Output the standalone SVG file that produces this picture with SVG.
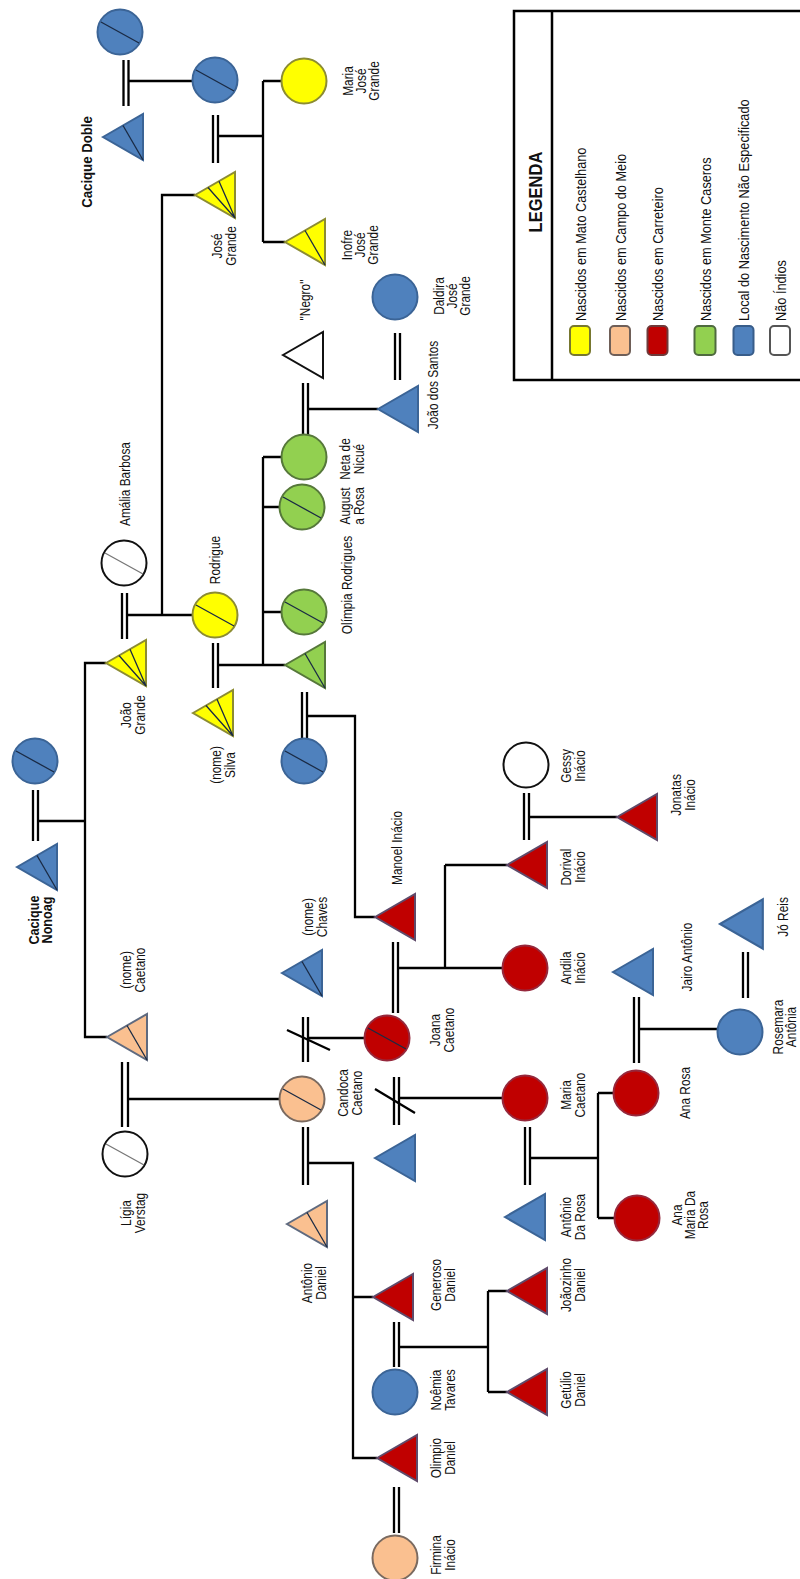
<svg xmlns="http://www.w3.org/2000/svg" xmlns:xlink="http://www.w3.org/1999/xlink" width="800" height="1579" viewBox="0 0 800 1579">
<style>
.ln{stroke:#000;stroke-width:2.3;fill:none}
.dl{stroke:#000;stroke-width:2.3;fill:none}
.blue{fill:#4f81bd;stroke:#3b6496;stroke-width:2}
.yel{fill:#ffff00;stroke:#8c8c32;stroke-width:2}
.red{fill:#c00000;stroke:#96283c;stroke-width:2}
.redt{fill:#c00000;stroke:#5f4a6a;stroke-width:2}
.grn{fill:#92d050;stroke:#56783a;stroke-width:2}
.pch{fill:#fac090;stroke:#7a6a60;stroke-width:2}
.pcht{fill:#fac090;stroke:#5f6a7f;stroke-width:2}
.wht{fill:#fff;stroke:#111;stroke-width:2}
.dg{stroke:#1a2a44;stroke-width:1.3;fill:none}
.dgw{stroke:#777;stroke-width:1.3;fill:none}
.t{font-family:"Liberation Sans",Arial,sans-serif;font-size:14px;fill:#111;text-anchor:middle}
.tb{font-family:"Liberation Sans",Arial,sans-serif;font-size:14px;font-weight:bold;fill:#111;text-anchor:middle}
.lg{font-family:"Liberation Sans",Arial,sans-serif;font-size:15px;fill:#111;text-anchor:start}
.sw{stroke-width:2}
</style>
<defs>
<path id="tri" d="M0 0 L40 -23 L40 23 Z"/>
<path id="l1" d="M20 -11.5 L40 23"/>
<path id="l2" d="M13 -7.5 L40 23 M24 -13.8 L40 23"/>
<path id="cd" d="M-19 -10 L19 11"/>
</defs>

<g id="connectors">
<path class="ln" d="M128.5 81 H193 M218 136 H263 M263 81 V242 M263 81 H282 M263 242 H285 M195 195 H162 V615 M127 615 H193 M106 663 H85 V1037 H107 M38 821 H85 M218 665 H285 M263 457 V665 M263 457 H282 M263 507 H280 M263 612 H282 M308 409 H378 M307 716 H355 V917 H375 M398 968 H503 M445 865 V968 M445 865 H507 M308 1038 H365 M399 1098 H503 M128 1099 H280 M308 1163 H353 V1458 H377 M353 1297 H373 M399 1347 H488 M488 1291 V1392 M488 1291 H507 M488 1392 H507 M530 1158 H598 M598 1093 V1218 M598 1093 H614 M598 1218 H615 M639 1029 H718 M529 817 H617"/>
<path class="dl" d="M123.5 60 V106 M128.5 60 V106 M213 115 V163 M218 115 V163 M122 593 V639 M127 593 V639 M33 790 V841 M38 790 V841 M213 643 V688 M218 643 V688 M303 383 V435 M308 383 V435 M395 333 V380 M400 333 V380 M302 692 V738 M307 692 V738 M393 942 V1013 M398 942 V1013 M303 1017 V1062 M308 1017 V1062 M394 1077 V1125 M399 1077 V1125 M122 1062 V1127 M128 1062 V1127 M303 1127 V1185 M308 1127 V1185 M394 1322 V1367 M399 1322 V1367 M394 1487 V1533 M399 1487 V1533 M525 1127 V1185 M530 1127 V1185 M634 997 V1063 M639 997 V1063 M743 952 V998 M748 952 V998 M524 793 V840 M529 793 V840"/>
<path class="ln" d="M287 1030 L330 1050 M375 1089 L415 1113"/>
</g>

<g id="n-doble-mae"><circle class="blue" cx="120" cy="32" r="22.5"/><use href="#cd" class="dg" x="120" y="32"/></g>
<g id="n-cacique-doble"><use href="#tri" class="blue" x="103" y="137"/><use href="#l1" class="dg" x="103" y="137"/>
<text class="tb" style="font-size:15px" transform="translate(87,162) rotate(-90) scale(.88,1)" y="5.4">Cacique Doble</text></g>
<g id="n-doble-filha"><circle class="blue" cx="215" cy="80" r="22.5"/><use href="#cd" class="dg" x="215" y="80"/></g>
<g id="n-maria-jose-grande"><circle class="yel" cx="304" cy="81" r="22.5"/>
<text class="t" transform="translate(361,81) rotate(-90) scale(.85,1)"><tspan x="0" y="-8.5">Maria</tspan><tspan x="0" y="5">José</tspan><tspan x="0" y="18.5">Grande</tspan></text></g>
<g id="n-jose-grande"><use href="#tri" class="yel" x="195" y="195"/><use href="#l2" class="dg" x="195" y="195"/>
<text class="t" transform="translate(224,246) rotate(-90) scale(.85,1)"><tspan x="0" y="-1.75">José</tspan><tspan x="0" y="11.75">Grande</tspan></text></g>
<g id="n-inofre"><use href="#tri" class="yel" x="285" y="242"/><use href="#l1" class="dg" x="285" y="242"/>
<text class="t" transform="translate(360,245) rotate(-90) scale(.85,1)"><tspan x="0" y="-8.5">Inofre</tspan><tspan x="0" y="5">José</tspan><tspan x="0" y="18.5">Grande</tspan></text></g>
<g id="n-negro"><use href="#tri" class="wht" x="283" y="355"/>
<text class="t" transform="translate(305,300) rotate(-90) scale(.85,1)" y="5">"Negro"</text></g>
<g id="n-daldira"><circle class="blue" cx="395" cy="297" r="22.5"/>
<text class="t" transform="translate(452,296) rotate(-90) scale(.85,1)"><tspan x="0" y="-8.5">Daldira</tspan><tspan x="0" y="5">José</tspan><tspan x="0" y="18.5">Grande</tspan></text></g>
<g id="n-joao-santos"><use href="#tri" class="blue" x="378" y="409"/>
<text class="t" transform="translate(433,385) rotate(-90) scale(.85,1)" y="5">João dos Santos</text></g>
<g id="n-amalia"><circle class="wht" cx="124" cy="563" r="22.5"/><use href="#cd" class="dgw" x="124" y="563"/>
<text class="t" transform="translate(125,484) rotate(-90) scale(.85,1)" y="5">Amália Barbosa</text></g>
<g id="n-rodrigue"><circle class="yel" cx="215" cy="615" r="22.5"/><use href="#cd" class="dg" x="215" y="615"/>
<text class="t" transform="translate(215,560) rotate(-90) scale(.85,1)" y="5">Rodrigue</text></g>
<g id="n-joao-grande"><use href="#tri" class="yel" x="106" y="663"/><use href="#l2" class="dg" x="106" y="663"/>
<text class="t" transform="translate(133,715) rotate(-90) scale(.85,1)"><tspan x="0" y="-1.75">João</tspan><tspan x="0" y="11.75">Grande</tspan></text></g>
<g id="n-silva"><use href="#tri" class="yel" x="193" y="713"/><use href="#l2" class="dg" x="193" y="713"/>
<text class="t" transform="translate(223,765) rotate(-90) scale(.85,1)"><tspan x="0" y="-1.75">(nome)</tspan><tspan x="0" y="11.75">Silva</tspan></text></g>
<g id="n-neta"><circle class="grn" cx="304" cy="457" r="22.5"/>
<text class="t" transform="translate(352,459) rotate(-90) scale(.85,1)"><tspan x="0" y="-1.75">Neta de</tspan><tspan x="0" y="11.75">Nicué</tspan></text></g>
<g id="n-augusta"><circle class="grn" cx="302" cy="507" r="22.5"/><use href="#cd" class="dg" x="302" y="507"/>
<text class="t" transform="translate(352,506) rotate(-90) scale(.85,1)"><tspan x="0" y="-1.75">August</tspan><tspan x="0" y="11.75">a Rosa</tspan></text></g>
<g id="n-olimpia"><circle class="grn" cx="304" cy="612" r="22.5"/><use href="#cd" class="dg" x="304" y="612"/>
<text class="t" transform="translate(347,585) rotate(-90) scale(.85,1)" y="5">Olímpia Rodrigues</text></g>
<g id="n-verde"><use href="#tri" class="grn" x="285" y="665"/><use href="#l1" class="dg" x="285" y="665"/></g>
<g id="n-azul-mae-manoel"><circle class="blue" cx="304" cy="761" r="22.5"/><use href="#cd" class="dg" x="304" y="761"/></g>
<g id="n-nonoai-esposa"><circle class="blue" cx="35" cy="761" r="22.5"/><use href="#cd" class="dg" x="35" y="761"/></g>
<g id="n-cacique-nonoai"><use href="#tri" class="blue" x="17" y="867"/><use href="#l1" class="dg" x="17" y="867"/>
<text class="tb" transform="translate(40,920) rotate(-90) scale(.9,1)"><tspan x="0" y="-1.5">Cacique</tspan><tspan x="0" y="11.5">Nonoag</tspan></text></g>
<g id="n-nome-caetano"><use href="#tri" class="pcht" x="107" y="1037"/><use href="#l1" class="dg" x="107" y="1037"/>
<text class="t" transform="translate(133,970) rotate(-90) scale(.85,1)"><tspan x="0" y="-1.75">(nome)</tspan><tspan x="0" y="11.75">Caetano</tspan></text></g>
<g id="n-ligia"><circle class="wht" cx="125" cy="1154" r="22.5"/><use href="#cd" class="dgw" x="125" y="1154"/>
<text class="t" transform="translate(133,1213) rotate(-90) scale(.85,1)"><tspan x="0" y="-1.75">Lígia</tspan><tspan x="0" y="11.75">Verstag</tspan></text></g>
<g id="n-chaves"><use href="#tri" class="blue" x="282" y="973"/><use href="#l1" class="dg" x="282" y="973"/>
<text class="t" transform="translate(315,917) rotate(-90) scale(.85,1)"><tspan x="0" y="-1.75">(nome)</tspan><tspan x="0" y="11.75">Chaves</tspan></text></g>
<g id="n-candoca"><circle class="pch" cx="302" cy="1099" r="22.5"/><use href="#cd" class="dg" x="302" y="1099"/>
<text class="t" transform="translate(350,1093) rotate(-90) scale(.85,1)"><tspan x="0" y="-1.75">Candoca</tspan><tspan x="0" y="11.75">Caetano</tspan></text></g>
<g id="n-manoel"><use href="#tri" class="redt" x="375" y="917"/>
<text class="t" transform="translate(397,848) rotate(-90) scale(.85,1)" y="5">Manoel Inácio</text></g>
<g id="n-joana"><circle class="red" cx="387" cy="1038" r="22.5"/><use href="#cd" class="dg" x="387" y="1038"/>
<text class="t" transform="translate(442,1030) rotate(-90) scale(.85,1)"><tspan x="0" y="-1.75">Joana</tspan><tspan x="0" y="11.75">Caetano</tspan></text></g>
<g id="n-azul-sem-nome"><use href="#tri" class="blue" x="375" y="1158"/></g>
<g id="n-gessy"><circle class="wht" cx="526" cy="765" r="22.5"/>
<text class="t" transform="translate(573,766) rotate(-90) scale(.85,1)"><tspan x="0" y="-1.75">Gessy</tspan><tspan x="0" y="11.75">Inácio</tspan></text></g>
<g id="n-dorival"><use href="#tri" class="redt" x="507" y="865"/>
<text class="t" transform="translate(573,867) rotate(-90) scale(.85,1)"><tspan x="0" y="-1.75">Dorival</tspan><tspan x="0" y="11.75">Inácio</tspan></text></g>
<g id="n-jonatas"><use href="#tri" class="redt" x="617" y="817"/>
<text class="t" transform="translate(683,795) rotate(-90) scale(.85,1)"><tspan x="0" y="-1.75">Jonatas</tspan><tspan x="0" y="11.75">Inácio</tspan></text></g>
<g id="n-andila"><circle class="red" cx="525" cy="968" r="22.5"/>
<text class="t" transform="translate(573,968) rotate(-90) scale(.85,1)"><tspan x="0" y="-1.75">Andila</tspan><tspan x="0" y="11.75">Inácio</tspan></text></g>
<g id="n-maria-caetano"><circle class="red" cx="525" cy="1098" r="22.5"/>
<text class="t" transform="translate(573,1095) rotate(-90) scale(.85,1)"><tspan x="0" y="-1.75">Maria</tspan><tspan x="0" y="11.75">Caetano</tspan></text></g>
<g id="n-jairo"><use href="#tri" class="blue" x="613" y="972"/>
<text class="t" transform="translate(687,957) rotate(-90) scale(.85,1)" y="5">Jairo Antônio</text></g>
<g id="n-jo-reis"><use href="#tri" class="blue" transform="translate(720,924) scale(1.07)"/>
<text class="t" transform="translate(783,917) rotate(-90) scale(.85,1)" y="5">Jó Reis</text></g>
<g id="n-rosemara"><circle class="blue" cx="740" cy="1032" r="22.5"/>
<text class="t" transform="translate(785,1027) rotate(-90) scale(.85,1)"><tspan x="0" y="-1.75">Rosemara</tspan><tspan x="0" y="11.25">Antônia</tspan></text></g>
<g id="n-ana-rosa"><circle class="red" cx="636" cy="1093" r="22.5"/>
<text class="t" transform="translate(685,1093) rotate(-90) scale(.85,1)" y="5">Ana Rosa</text></g>
<g id="n-antonio-da-rosa"><use href="#tri" class="blue" x="505" y="1217"/>
<text class="t" transform="translate(573,1217) rotate(-90) scale(.85,1)"><tspan x="0" y="-1.75">Antônio</tspan><tspan x="0" y="11.75">Da Rosa</tspan></text></g>
<g id="n-ana-maria"><circle class="red" cx="637" cy="1218" r="22.5"/>
<text class="t" transform="translate(690,1215) rotate(-90) scale(.85,1)"><tspan x="0" y="-8.5">Ana</tspan><tspan x="0" y="5">Maria Da</tspan><tspan x="0" y="18.5">Rosa</tspan></text></g>
<g id="n-antonio-daniel"><use href="#tri" class="pcht" x="287" y="1224"/><use href="#l1" class="dg" x="287" y="1224"/>
<text class="t" transform="translate(314,1283) rotate(-90) scale(.85,1)"><tspan x="0" y="-1.75">Antônio</tspan><tspan x="0" y="11.75">Daniel</tspan></text></g>
<g id="n-generoso"><use href="#tri" class="redt" x="373" y="1297"/>
<text class="t" transform="translate(443,1285) rotate(-90) scale(.85,1)"><tspan x="0" y="-1.75">Generoso</tspan><tspan x="0" y="11.75">Daniel</tspan></text></g>
<g id="n-noemia"><circle class="blue" cx="395" cy="1392" r="22.5"/>
<text class="t" transform="translate(443,1390) rotate(-90) scale(.85,1)"><tspan x="0" y="-1.75">Noêmia</tspan><tspan x="0" y="11.75">Tavares</tspan></text></g>
<g id="n-joaozinho"><use href="#tri" class="redt" x="507" y="1291"/>
<text class="t" transform="translate(573,1285) rotate(-90) scale(.85,1)"><tspan x="0" y="-1.75">Joãozinho</tspan><tspan x="0" y="11.75">Daniel</tspan></text></g>
<g id="n-getulio"><use href="#tri" class="redt" x="507" y="1392"/>
<text class="t" transform="translate(573,1390) rotate(-90) scale(.85,1)"><tspan x="0" y="-1.75">Getúlio</tspan><tspan x="0" y="11.75">Daniel</tspan></text></g>
<g id="n-olimpio"><use href="#tri" class="redt" x="377" y="1458"/>
<text class="t" transform="translate(443,1458) rotate(-90) scale(.85,1)"><tspan x="0" y="-1.75">Olimpio</tspan><tspan x="0" y="11.75">Daniel</tspan></text></g>
<g id="n-firmina"><circle class="pch" cx="395" cy="1558" r="22.5"/>
<text class="t" transform="translate(443,1555) rotate(-90) scale(.85,1)"><tspan x="0" y="-1.75">Firmina</tspan><tspan x="0" y="11.75">Inácio</tspan></text></g>

<g id="legenda">
<path d="M800 11 H514 V380 H800 M552 11 V380" fill="none" stroke="#000" stroke-width="2.5"/>
<text class="tb" style="font-size:19px" transform="translate(535,192) rotate(-90) scale(.87,1)" y="7">LEGENDA</text>
<rect class="sw" x="570" y="326" width="20" height="29" rx="4" fill="#ffff00" stroke="#77772f"/>
<rect class="sw" x="610" y="326" width="20" height="29" rx="4" fill="#fac090" stroke="#6f5f58"/>
<rect class="sw" x="647.5" y="326" width="20" height="29" rx="4" fill="#c00000" stroke="#6f3a3a"/>
<rect class="sw" x="694.5" y="326" width="21" height="29" rx="4" fill="#92d050" stroke="#4f6a3f"/>
<rect class="sw" x="733.5" y="326" width="20" height="29" rx="4" fill="#4f81bd" stroke="#385d8a"/>
<rect class="sw" x="770" y="326" width="20" height="29" rx="4" fill="#fff" stroke="#555"/>
<text class="lg" transform="translate(585.5,321) rotate(-90) scale(.85,1)">Nascidos em Mato Castelhano</text>
<text class="lg" transform="translate(625.5,321) rotate(-90) scale(.85,1)">Nascidos em Campo do Meio</text>
<text class="lg" transform="translate(663,321) rotate(-90) scale(.85,1)">Nascidos em Carreteiro</text>
<text class="lg" transform="translate(710.5,321) rotate(-90) scale(.85,1)">Nascidos em Monte Caseros</text>
<text class="lg" transform="translate(749,321) rotate(-90) scale(.85,1)">Local do Nascimento Não Especificado</text>
<text class="lg" transform="translate(785.5,321) rotate(-90) scale(.85,1)">Não Índios</text>
</g>
</svg>
